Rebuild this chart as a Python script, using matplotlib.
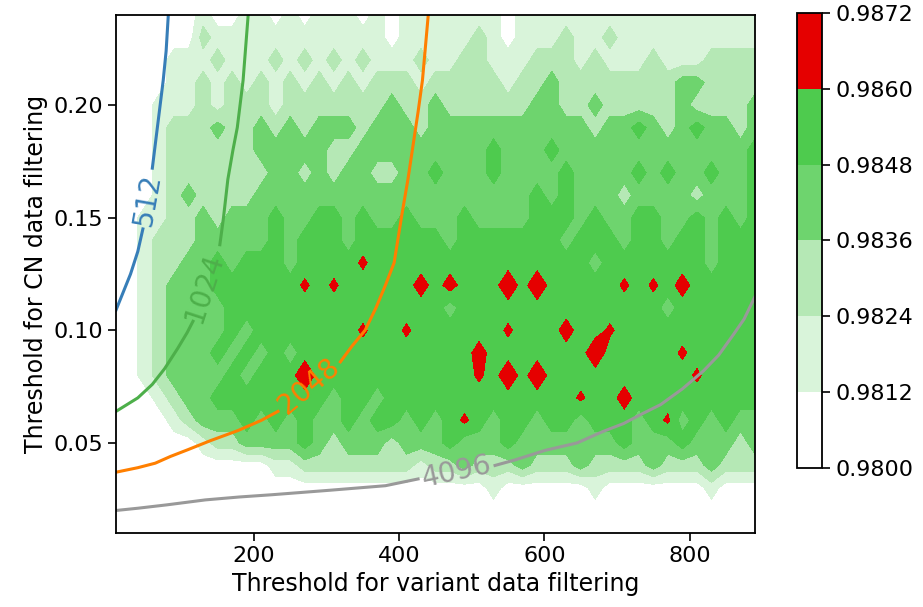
import numpy as np
import matplotlib
matplotlib.use("Agg")
import matplotlib.pyplot as plt

# Grid of thresholds
x_vals = np.arange(10, 891, 20)            # variant data filtering threshold
y_vals = np.round(np.arange(0.01, 0.2401, 0.01), 2)  # CN data filtering threshold

# Accuracy band, one string per row from y=0.24 down to 0.01
# 0..5 = colour band, a = small red spot, R = large red spot
acc_rows = [
    "00000 01001 10101 11010 11111 11011 11111 11111 11111",
    "00000 02111 11111 11110 11111 21011 12112 11111 11111",
    "00001 11211 12121 21211 12112 21112 22121 11211 12222",
    "00001 12121 21212 12122 21222 22122 32222 22223 32222",
    "00011 12122 21222 22223 22322 22223 32232 22223 22223",
    "00012 22322 32323 33233 32333 33333 33323 34323 43323",
    "00012 22222 33333 22333 33333 34333 43333 33333 33334",
    "00012 22222 23323 23322 33433 34333 34333 34343 34334",
    "00012 32222 33333 33333 33333 33334 34333 23333 23334",
    "00112 23233 34334 43433 43334 33334 44343 34433 43434",
    "00122 23333 34344 43444 44434 44444 43444 34434 43444",
    "00122 33434 44344 44a44 44444 44444 44434 44444 43444",
    "00123 33444 444a4 a4444 45454 44R4R 44444 a4a45 44444",
    "00123 33344 44444 44444 44434 44444 44444 44434 44444",
    "00123 33343 44444 44a44 a4444 44a44 4544a 44444 44444",
    "00123 33434 34344 44444 44444 54444 444R4 4444a 44444",
    "00123 33343 444R4 44444 44444 a4R4R 44444 44444 a4444",
    "00012 33444 44444 34434 44444 44444 44a44 54444 44444",
    "00001 23334 34343 34344 3434a 43443 44344 434a3 43433",
    "00000 01223 33343 23332 33343 33433 33333 43334 33323",
    "00000 00000 01122 22222 21223 22232 22322 22322 23222",
    "00000 00000 00000 00000 00000 01000 00010 00000 01000",
    "00000 00000 00000 00000 00000 00000 00000 00000 00000",
    "00000 00000 00000 00000 00000 00000 00000 00000 00000",
]
band_value = {"0": 0.9806, "1": 0.9818, "2": 0.9830, "3": 0.9842,
              "4": 0.9854, "5": 0.9866, "a": 0.98625, "R": 0.9871}

levels = [0.9800, 0.9812, 0.9824, 0.9836, 0.9848, 0.9860, 0.9872]
band_colors = ["#ffffff", "#d9f4da", "#b5e8b5", "#6ed46e", "#4ecb4e", "#e50000"]

# Iso-lines (number of samples)
line_names = ["512", "1024", "2048", "4096"]
line_colors = ["#377eb8", "#4daf4a", "#ff7f00", "#999999"]
line_x = [
    [10, 20, 30, 40, 47, np.nan, 60, 65, 70, 75, 79, 82],
    [10, 25, 40, 60, 77, 95, 108, 116, np.nan, 153, 158, 164, 171, 177, 185, 192],
    [10, 40, 64, 85, 109, 140, 178, 210, 233, np.nan, 319, 335, 353, 368, 381,
     393, 404, 412, 419, 426, 432, 440],
    [10, 40, 80, 133, 180, 225, 305, 381, 426, np.nan, 532, 560, 601, 645, 680,
     709, 735, 760, 790, 819, 840, 860, 875, 890],
]
line_y = [
    [0.109, 0.117, 0.125, 0.135, 0.145, np.nan, 0.172, 0.185, 0.198, 0.211, 0.224, 0.240],
    [0.064, 0.067, 0.070, 0.076, 0.083, 0.092, 0.099, 0.104, np.nan, 0.138, 0.150,
     0.167, 0.180, 0.190, 0.211, 0.240],
    [0.037, 0.039, 0.041, 0.044, 0.047, 0.051, 0.0555, 0.060, 0.064, np.nan, 0.086,
     0.093, 0.100, 0.110, 0.120, 0.130, 0.152, 0.167, 0.182, 0.197, 0.211, 0.240],
    [0.020, 0.021, 0.0225, 0.0247, 0.026, 0.027, 0.029, 0.031, 0.034, np.nan, 0.040,
     0.0425, 0.0467, 0.050, 0.055, 0.0586, 0.063, 0.067, 0.074, 0.082, 0.089, 0.098,
     0.105, 0.115],
]
label_x = [53, 131, 276, 479]
label_y = [0.158, 0.119, 0.075, 0.037]
label_rot = [80, 72, 40, 12]

Z = np.array([[band_value[c] for c in "".join(r.split())] for r in acc_rows[::-1]])

fig = plt.figure(figsize=(9.23, 6.07), dpi=100)
ax = fig.add_axes([0.1257, 0.1219, 0.6923, 0.8534])
cax = fig.add_axes([0.8635, 0.229, 0.0271, 0.7496])

cs = ax.contourf(x_vals, y_vals, Z, levels=levels, colors=band_colors)

for xs, ys, col in zip(line_x, line_y, line_colors):
    ax.plot(xs, ys, color=col, lw=2.2)
for name, lx, ly, rot, col in zip(line_names, label_x, label_y, label_rot, line_colors):
    ax.text(lx, ly, name, color=col, rotation=rot, ha="center", va="center", fontsize=20)

ax.set_xlim(10, 890)
ax.set_ylim(0.01, 0.24)
ax.set_xticks([200, 400, 600, 800])
ax.set_yticks([0.05, 0.10, 0.15, 0.20])
ax.set_yticklabels(["0.05", "0.10", "0.15", "0.20"])
ax.tick_params(labelsize=16, length=6, width=1.2)
for s in ax.spines.values():
    s.set_linewidth(1.3)
ax.set_xlabel("Threshold for variant data filtering", fontsize=17)
ax.set_ylabel("Threshold for CN data filtering", fontsize=17)

cb = fig.colorbar(cs, cax=cax, ticks=levels)
cb.ax.set_yticklabels([f"{v:.4f}" for v in levels])
cb.ax.tick_params(labelsize=16, length=6, width=1.2)
cb.outline.set_linewidth(1.3)

plt.savefig("out.png", dpi=100)
